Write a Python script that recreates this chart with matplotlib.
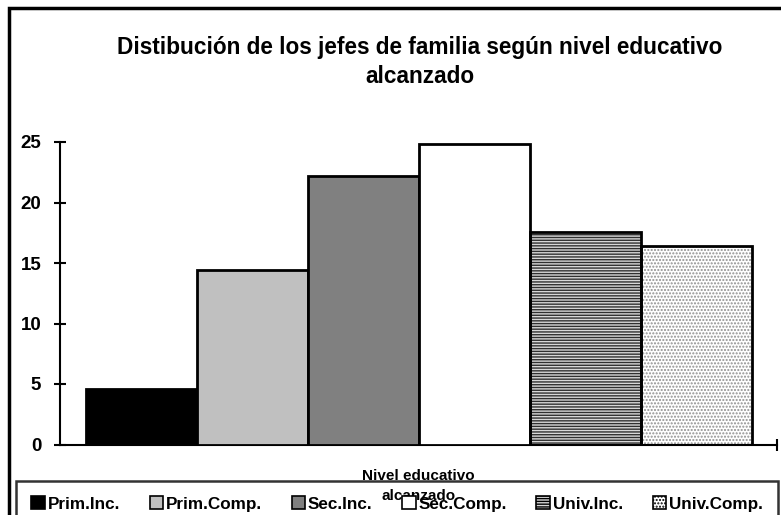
import matplotlib
matplotlib.use('Agg')
import matplotlib.pyplot as plt
from matplotlib.patches import Rectangle, Patch

plt.rcParams['font.family'] = ['Liberation Sans', 'DejaVu Sans']
plt.rcParams['font.weight'] = 'bold'

# data
niveles = ['Prim.Inc.', 'Prim.Comp.', 'Sec.Inc.', 'Sec.Comp.', 'Univ.Inc.', 'Univ.Comp.']
porcentajes = [4.6, 14.4, 22.2, 24.8, 17.6, 16.4]
yticks = [0, 5, 10, 15, 20, 25]

colores = ['black', '#c0c0c0', '#808080', 'white', '#d8d8d8', 'white']
hatches = [None, None, None, None, '------', '.....']
hatch_col = [None, None, None, None, '#303030', '#909090']

fig = plt.figure(figsize=(7.81, 5.15), dpi=100)
ax = fig.add_axes([60 / 781, 1 - 444.5 / 515, 717 / 781, 302.5 / 515])

x = list(range(len(niveles)))
for i in x:
    if hatches[i]:
        # pattern first, then the black outline on top
        ax.bar(i, porcentajes[i], width=1.0, color=colores[i], hatch=hatches[i],
               edgecolor=hatch_col[i], linewidth=0, zorder=2)
        ax.bar(i, porcentajes[i], width=1.0, fill=False, edgecolor='black',
               linewidth=2, zorder=3)
    else:
        ax.bar(i, porcentajes[i], width=1.0, color=colores[i], edgecolor='black',
               linewidth=2, zorder=3)

xmax = 5.726
ax.set_xlim(-0.735, xmax)
ax.set_ylim(0, 25)
ax.set_yticks(yticks)
ax.set_yticklabels([str(v) for v in yticks], fontsize=13.5, fontweight='bold')
ax.set_xticks([xmax])
ax.set_xticklabels([''])
ax.tick_params(axis='both', direction='inout', length=9, width=1.5)
ax.tick_params(axis='y', pad=9)
for s in ['top', 'right']:
    ax.spines[s].set_visible(False)
for s in ['left', 'bottom']:
    ax.spines[s].set_linewidth(1.5)
    ax.spines[s].set_clip_on(False)

ax.set_xlabel('Nivel educativo\nalcanzado', fontsize=11, fontweight='bold',
              linespacing=1.5, labelpad=10)

fig.text(0.538, 1 - 62 / 515, 'Distibución de los jefes de familia según nivel educativo\nalcanzado',
         ha='center', va='center', fontsize=16.3, fontweight='bold', linespacing=1.3)

# outer border of the chart area
fig.add_artist(Rectangle((9 / 781, -0.1), 1.0, 1.1 - 8 / 515, transform=fig.transFigure,
                         fill=False, edgecolor='black', linewidth=2.5))

handles = []
for i in x:
    handles.append(Patch(facecolor=colores[i], edgecolor='black',
                         hatch=hatches[i], linewidth=1.2))
leg_top = 1 - 481 / 515
leg = fig.legend(handles, niveles, loc='upper left', ncol=6, mode='expand',
                 bbox_to_anchor=(16 / 781, leg_top - 0.2, 762 / 781, 0.2),
                 fontsize=12.3, frameon=True, fancybox=False,
                 handlelength=0.8, handleheight=0.8, handletextpad=0.15,
                 borderaxespad=0, borderpad=0.9, columnspacing=0.5)
leg.get_frame().set_edgecolor('black')
leg.get_frame().set_facecolor('none')
leg.get_frame().set_linewidth(1.8)
for t in leg.get_texts():
    t.set_fontweight('bold')

fig.savefig('out.png', dpi=100)
